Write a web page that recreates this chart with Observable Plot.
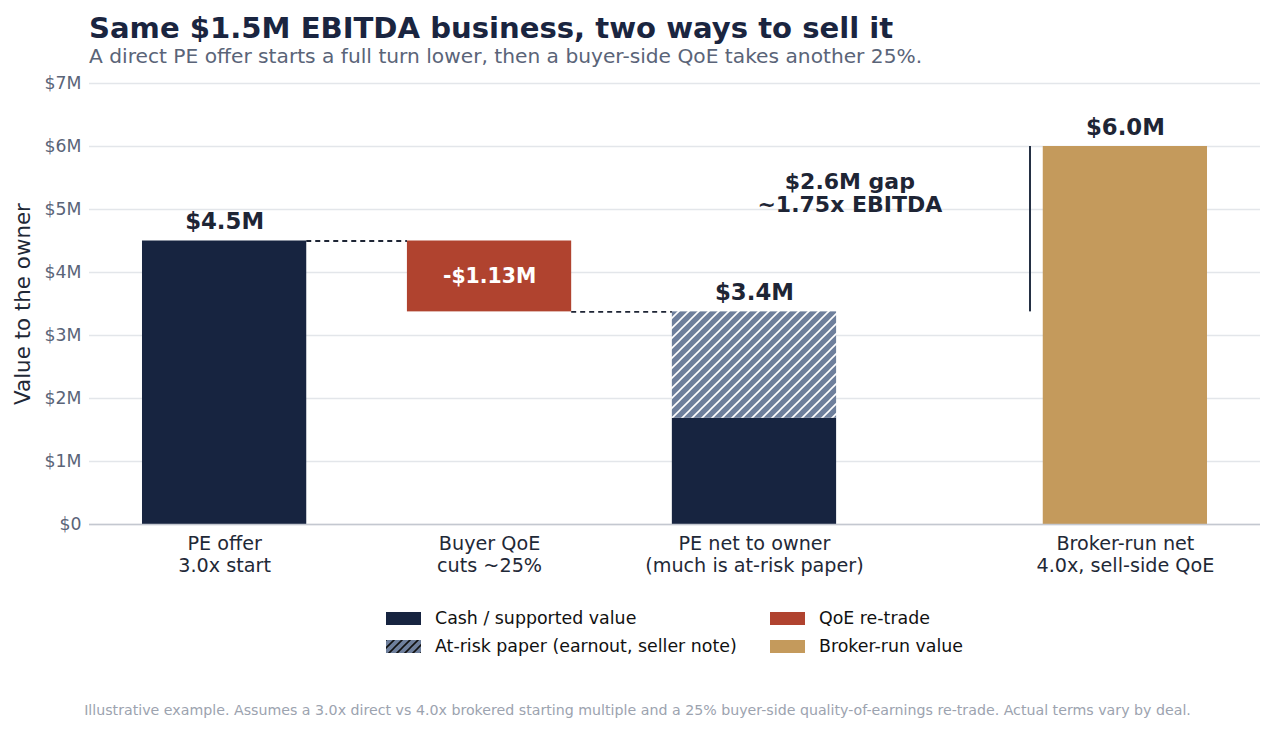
<!DOCTYPE html>
<html>
<head>
<meta charset="utf-8">
<script src="https://cdn.jsdelivr.net/npm/d3@7"></script>
<script src="https://cdn.jsdelivr.net/npm/@observablehq/plot@0.6"></script>
<style>
  body { margin: 0; background: #fff; font-family: "DejaVu Sans", sans-serif; }
  #wrap { position: relative; width: 1275px; height: 732px; overflow: hidden; }
  #title { position: absolute; left: 89px; top: 13.5px; font-size: 29.1px; line-height: 1; font-weight: bold; color: #1a2540; white-space: nowrap; }
  #subtitle { position: absolute; left: 89px; top: 46px; font-size: 20.2px; line-height: 1; color: #5a6478; white-space: nowrap; }
  #chart { position: absolute; left: 0; top: 0; }
  .leg { position: absolute; height: 20px; display: flex; align-items: center; font-size: 17.4px; color: #111; white-space: nowrap; }
  .sw { width: 35px; height: 13px; margin-right: 14px; flex: none; }
  #footer { position: absolute; left: 0; width: 1275px; top: 703px; text-align: center; font-size: 14.2px; line-height: 1; color: #9ca3af; white-space: nowrap; }
</style>
</head>
<body>
<div id="wrap">
  <div id="chart"></div>
  <div id="title">Same $1.5M EBITDA business, two ways to sell it</div>
  <div id="subtitle">A direct PE offer starts a full turn lower, then a buyer-side QoE takes another 25%.</div>
  <div id="legend"></div>
  <div id="footer">Illustrative example. Assumes a 3.0x direct vs 4.0x brokered starting multiple and a 25% buyer-side quality-of-earnings re-trade. Actual terms vary by deal.</div>
</div>
<script>
// Stages along the x axis (the broker-run bar sits a little further out)
const stageLabels = [
  "PE offer\n3.0x start",
  "Buyer QoE\ncuts ~25%",
  "PE net to owner\n(much is at-risk paper)",
  "Broker-run net\n4.0x, sell-side QoE"
];
const stageX = [0, 1, 2, 3.4];

// Bar segments ($M): which stage, bottom, top, kind
const segStage = [0, 1, 2, 2, 3];
const segBase  = [0, 3.375, 0, 1.6875, 0];
const segTop   = [4.5, 4.5, 1.6875, 3.375, 6.0];
const segKind  = ["cash", "retrade", "cash", "paper", "broker"];

// Totals shown above the bars
const totalStage = [0, 2, 3];
const totalValue = [4.5, 3.375, 6.0];
const retradeValue = 1.125;
const ebitda = 1.5;

const yTicks = [0, 1, 2, 3, 4, 5, 6, 7];

// Legend entries
const legendKinds  = ["cash", "paper", "retrade", "broker"];
const legendLabels = ["Cash / supported value", "At-risk paper (earnout, seller note)", "QoE re-trade", "Broker-run value"];

const palette = {
  cash: "#172440",
  paper: "url(#paperHatch)",
  retrade: "#b0432f",
  broker: "#c49a5c"
};
const ink = "#1e2535";
const halfW = 0.31;

const segs = segStage.map((s, i) => ({
  x1: stageX[s] - halfW, x2: stageX[s] + halfW,
  y1: segBase[i], y2: segTop[i], kind: segKind[i]
}));

const totals = totalStage.map((s, i) => ({
  x: stageX[s], y: totalValue[i], label: `$${totalValue[i].toFixed(1)}M`
}));

const retradeLabel = [{
  x: stageX[1], y: totalValue[0] - retradeValue / 2,
  label: `-$${retradeValue.toFixed(2)}M`
}];

// dashed connectors from one bar top to the next bar
const connectors = [
  {x1: stageX[0] + halfW, x2: stageX[1] - halfW, y: totalValue[0]},
  {x1: stageX[1] + halfW, x2: stageX[2] - halfW, y: totalValue[1]}
];

const gap = totalValue[2] - totalValue[1];
const gapX = stageX[3] - halfW - 0.05;
const gapText = [{
  x: 2.36, y: 5.26,
  label: `$${gap.toFixed(1)}M gap\n~${(gap / ebitda).toFixed(2)}x EBITDA`
}];

const fmtY = d => d === 0 ? "$0" : `$${d}M`;

const chart = Plot.plot({
  width: 1275,
  height: 600,
  marginTop: 83,
  marginBottom: 76,
  marginLeft: 89,
  marginRight: 15,
  style: { fontFamily: "DejaVu Sans, sans-serif", background: "transparent" },
  x: { domain: [-0.51, 3.91] },
  y: { domain: [0, 7] },
  marks: [
    Plot.gridY(yTicks, { stroke: "#e3e6ea", strokeOpacity: 1, strokeWidth: 1.3 }),
    Plot.axisY({ ticks: yTicks, tickFormat: fmtY, tickSize: 0, tickPadding: 8, fontSize: 17.3, color: "#5a6478", label: null }),
    Plot.axisX({ ticks: stageX, tickFormat: d => stageLabels[stageX.indexOf(d)], tickSize: 0, tickPadding: 10, fontSize: 19.2, lineHeight: 1.15, color: "#1f2937", label: null }),
    Plot.text(["Value to the owner"], { frameAnchor: "left", textAnchor: "middle", dx: -66, rotate: -90, fontSize: 21.4, fill: "#1f2937" }),
    ...Object.keys(palette).map(k =>
      Plot.rect(segs, { filter: d => d.kind === k, x1: "x1", x2: "x2", y1: "y1", y2: "y2", fill: palette[k] })
    ),
    Plot.ruleY([0], { stroke: "#c4c8d0", strokeWidth: 1.6 }),
    Plot.ruleY(connectors, { y: "y", x1: "x1", x2: "x2", stroke: ink, strokeWidth: 1.8, strokeDasharray: "5,4" }),
    Plot.ruleX([gapX], { y1: totalValue[1], y2: totalValue[2], stroke: "#243044", strokeWidth: 2 }),
    Plot.text(totals, { x: "x", y: "y", text: "label", dy: -19, fontSize: 22.8, fontWeight: "bold", fill: ink }),
    Plot.text(retradeLabel, { x: "x", y: "y", text: "label", fontSize: 20.4, fontWeight: "bold", fill: "#fff" }),
    Plot.text(gapText, { x: "x", y: "y", text: "label", fontSize: 22, fontWeight: "bold", lineHeight: 1.05, fill: ink })
  ]
});

d3.select(chart).insert("defs", ":first-child").html(`
  <pattern id="paperHatch" patternUnits="userSpaceOnUse" width="10" height="10">
    <rect width="10" height="10" fill="#6e7f9c"/>
    <path d="M-1,1 l2,-2 M0,10 l10,-10 M9,11 l2,-2" stroke="#fff" stroke-width="1.6"/>
  </pattern>
  <pattern id="legendHatch" patternUnits="userSpaceOnUse" width="8" height="8">
    <rect width="8" height="8" fill="#6e7f9c"/>
    <path d="M-1,1 l2,-2 M0,8 l8,-8 M7,9 l2,-2" stroke="#111" stroke-width="1.6"/>
  </pattern>`);

document.getElementById("chart").appendChild(chart);

// Legend: two columns, two rows
const legCols = [386, 770];
const legRows = [618, 646];
const legend = document.getElementById("legend");
legendKinds.forEach((k, i) => {
  const item = document.createElement("div");
  item.className = "leg";
  item.style.left = legCols[Math.floor(i / 2)] + "px";
  item.style.top = (legRows[i % 2] - 10) + "px";
  const sw = k === "paper"
    ? `<svg class="sw" width="35" height="13"><rect width="35" height="13" fill="url(#legendHatch)"/></svg>`
    : `<span class="sw" style="background:${palette[k]}"></span>`;
  item.innerHTML = sw + `<span>${legendLabels[i]}</span>`;
  legend.appendChild(item);
});
</script>
</body>
</html>
